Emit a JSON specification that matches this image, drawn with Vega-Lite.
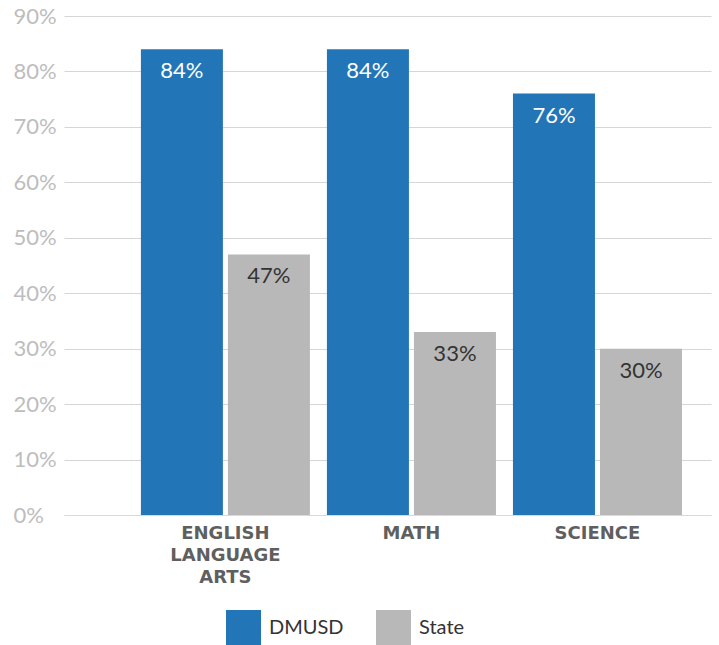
{
  "$schema": "https://vega.github.io/schema/vega-lite/v6.json",
  "width": 647,
  "height": 499,
  "autosize": {"type": "none"},
  "padding": {"left": 64, "top": 16, "right": 8, "bottom": 130},
  "config": {"view": {"stroke": null}, "font": "Lato"},
  "data": {
    "values": [
      {"subject": "ENGLISH LANGUAGE ARTS", "group": "DMUSD", "value": 84},
      {"subject": "ENGLISH LANGUAGE ARTS", "group": "State", "value": 47},
      {"subject": "MATH", "group": "DMUSD", "value": 84},
      {"subject": "MATH", "group": "State", "value": 33},
      {"subject": "SCIENCE", "group": "DMUSD", "value": 76},
      {"subject": "SCIENCE", "group": "State", "value": 30}
    ]
  },
  "encoding": {
    "x": {
      "field": "subject",
      "type": "nominal",
      "sort": null,
      "scale": {"paddingInner": 0.0914, "paddingOuter": 0.2847, "align": 0.726},
      "axis": {
        "title": null,
        "labelAngle": 0,
        "ticks": false,
        "domain": true,
        "domainColor": "#d9d9d9",
        "domainWidth": 1,
        "labelExpr": "split(datum.value, ' ')",
        "labelFont": "DejaVu Sans",
        "labelFontSize": 18,
        "labelFontWeight": "bold",
        "labelColor": "#5f5f5f",
        "labelLineHeight": 22,
        "labelPadding": 9,
        "labelBaseline": "top"
      }
    },
    "xOffset": {
      "field": "group",
      "type": "nominal",
      "scale": {"paddingInner": 0.0575}
    },
    "y": {
      "field": "value",
      "type": "quantitative",
      "scale": {"domain": [0, 90]},
      "axis": {
        "title": null,
        "values": [0, 10, 20, 30, 40, 50, 60, 70, 80, 90],
        "labelExpr": "datum.value + '%'",
        "domain": false,
        "ticks": false,
        "tickSize": 0,
        "labelAlign": "left",
        "labelPadding": 51,
        "labelFontSize": 22,
        "labelColor": "#bdbdbd",
        "gridColor": "#d6d6d6",
        "gridWidth": 1
      }
    }
  },
  "layer": [
    {
      "mark": {"type": "bar"},
      "encoding": {
        "color": {
          "field": "group",
          "type": "nominal",
          "scale": {"domain": ["DMUSD", "State"], "range": ["#2276B8", "#B8B8B8"]},
          "legend": {
            "title": null,
            "orient": "none",
            "legendX": 162,
            "legendY": 594,
            "direction": "horizontal",
            "symbolType": "square",
            "symbolSize": 1225,
            "symbolStrokeWidth": 0,
            "symbolOpacity": 1,
            "labelFontSize": 20,
            "labelColor": "#333333",
            "labelOffset": 8,
            "columnPadding": 32
          }
        }
      }
    },
    {
      "mark": {"type": "text", "baseline": "top", "dy": 12, "fontSize": 22, "text": {"expr": "datum.value + '%'"}},
      "encoding": {
        "color": {
          "field": "group",
          "type": "nominal",
          "scale": {"domain": ["DMUSD", "State"], "range": ["#FFFFFF", "#333333"]},
          "legend": null
        }
      }
    }
  ],
  "resolve": {"scale": {"color": "independent"}}
}
